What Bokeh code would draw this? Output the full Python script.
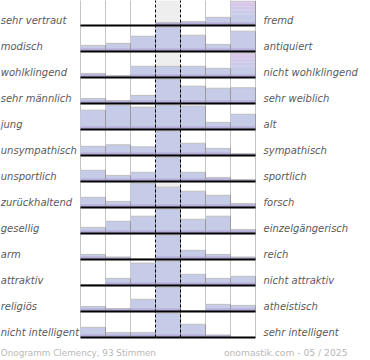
import numpy as np
from bokeh.plotting import figure
from bokeh.models import Range1d
from bokeh.core.properties import value
from bokeh.embed import file_html
from bokeh.resources import INLINE

# ---------------- data ----------------
left_labels = ["sehr vertraut", "modisch", "wohlklingend", "sehr männlich", " jung",
               "unsympathisch", "unsportlich", "zurückhaltend", "gesellig", "arm",
               "attraktiv", "religiös", "nicht intelligent"]
right_labels = ["fremd", "antiquiert", "nicht wohlklingend", "sehr weiblich", "alt",
                "sympathisch", "sportlich", "forsch", "einzelgängerisch", "reich",
                "nicht attraktiv", "atheistisch", "sehr intelligent"]

vertraut = [0, 0, 0, 3, 4, 8, 40]
modisch = [6, 8, 15, 24, 16, 7, 20]
wohlklingend = [4, 2, 11, 11, 11, 9, 32]
maennlich = [5, 3, 8, 24, 17, 15, 15.5]
jung = [19, 24, 22, 24, 23, 7, 15]
unsympathisch = [9, 10.5, 8.5, 24, 12, 7, 2]
unsportlich = [11, 6, 9, 24, 9, 4, 2]
zurueckhaltend = [10, 6, 24, 20, 16, 12, 4]
gesellig = [6, 12, 17, 24, 14, 17, 4]
arm = [5, 2.5, 0.5, 24, 9, 5, 2.5]
attraktiv = [1, 7, 22, 24, 11, 7, 9]
religioes = [5, 3, 12, 24, 1, 7, 6]
intelligent = [10, 5, 5, 24, 13, 2.5, 0]

rows = [vertraut, modisch, wohlklingend, maennlich, jung, unsympathisch, unsportlich,
        zurueckhaltend, gesellig, arm, attraktiv, religioes, intelligent]

footer_left = "Onogramm Clemency, 93 Stimmen"
footer_right = "onomastik.com - 05 / 2025"

CAP = 24.0      # value that fills a row
FULL = 0.94     # full bar height in row units
NCOL = 7
NROW = len(rows)

BLUE = np.array([198, 203, 232])
PINK = np.array([221, 199, 232])
PURPLE = "#b3a8d7"

def hexc(a):
    return "#%02x%02x%02x" % tuple(int(round(x)) for x in a)

W, H = 370, 360
XPX, YPX = 25.0, 26.0
X0, Y0 = 80.0, -1.0
p = figure(width=W, height=H, output_backend="svg", toolbar_location=None,
           x_range=Range1d(-X0 / XPX, (W - X0) / XPX),
           y_range=Range1d((H - Y0) / YPX, -Y0 / YPX),
           min_border=0, min_border_left=0, min_border_right=0,
           min_border_top=0, min_border_bottom=0)
p.axis.visible = False
p.grid.visible = False
p.outline_line_color = None
p.background_fill_color = "white"
p.border_fill_color = "white"

# centre column background
p.quad(left=[3], right=[4], top=[0], bottom=[NROW], fill_color="#eeeeee", line_color=None)

# dotted verticals
dot_x = [0, 1, 2, 5, 6, 7]
p.segment(x0=dot_x, x1=dot_x, y0=[0] * len(dot_x), y1=[NROW] * len(dot_x),
          line_color="#8a8a8a", line_width=1, line_dash="1 1")

# bars
L, R, T, B, C = [], [], [], [], []
sl, sr, st, sb = [], [], [], []
tx0, tx1, ty = [], [], []
rx, ry0, ry1 = [], [], []
for r, vals in enumerate(rows):
    base = r + 1
    for c, v in enumerate(vals):
        h = min(v, CAP) / CAP * FULL
        if h <= 0:
            continue
        top = base - h
        if v > CAP:
            n = 10
            mid = base - h * 0.45
            L.append(c); R.append(c + 1); T.append(mid); B.append(base); C.append(hexc(BLUE))
            edges = np.linspace(mid, top, n + 1)
            for k in range(n):
                f = (k + 0.5) / n
                L.append(c); R.append(c + 1); T.append(edges[k + 1]); B.append(edges[k] + 0.01)
                C.append(hexc(BLUE + (PINK - BLUE) * f))
        else:
            L.append(c); R.append(c + 1); T.append(top); B.append(base); C.append(hexc(BLUE))
        sh = min(h, 0.12)
        sl.append(c); sr.append(c + 1); st.append(base - sh); sb.append(base)
        tx0.append(c); tx1.append(c + 1); ty.append(top)
        rx.append(c + 1); ry0.append(top); ry1.append(base)

p.quad(left=L, right=R, top=T, bottom=B, fill_color=C, line_color=None)
p.quad(left=sl, right=sr, top=st, bottom=sb, fill_color=PURPLE, line_color=None, fill_alpha=0.9)
p.segment(x0=tx0, x1=tx1, y0=ty, y1=ty, line_color="#c0c0c0", line_width=1)
p.segment(x0=rx, x1=rx, y0=ry0, y1=ry1, line_color="#9a9a9a", line_width=1)

# baselines
bl_y = [r + 1 for r in range(NROW)]
p.segment(x0=[0] * NROW, x1=[NCOL] * NROW, y0=bl_y, y1=bl_y, line_color="black", line_width=2)

# dashed centre lines
dash_x = [3, 4]
p.segment(x0=dash_x, x1=dash_x, y0=[0, 0], y1=[NROW, NROW],
          line_color="black", line_width=1, line_dash="3 2")

# labels
lab_y = [r + 1 - 0.2 for r in range(NROW)]
p.text(x=[-3.19] * NROW, y=lab_y, text=left_labels, text_font=value("DejaVu Sans"),
       text_font_style="italic", text_font_size="10px", text_color="#5a5a5a",
       text_align="left", text_baseline="middle")
p.text(x=[7.32] * NROW, y=lab_y, text=right_labels, text_font=value("DejaVu Sans"),
       text_font_style="italic", text_font_size="10px", text_color="#5a5a5a",
       text_align="left", text_baseline="middle")

# footer
p.text(x=[-3.19], y=[13.58], text=[footer_left], text_font=value("DejaVu Sans"),
       text_font_size="8.8px", text_color="#b8b8b8", text_align="left", text_baseline="middle")
p.text(x=[10.68], y=[13.58], text=[footer_right], text_font=value("DejaVu Sans"),
       text_font_size="9.2px", text_color="#b8b8b8", text_align="right", text_baseline="middle")

open("out.html", "w").write(file_html(p, INLINE))
